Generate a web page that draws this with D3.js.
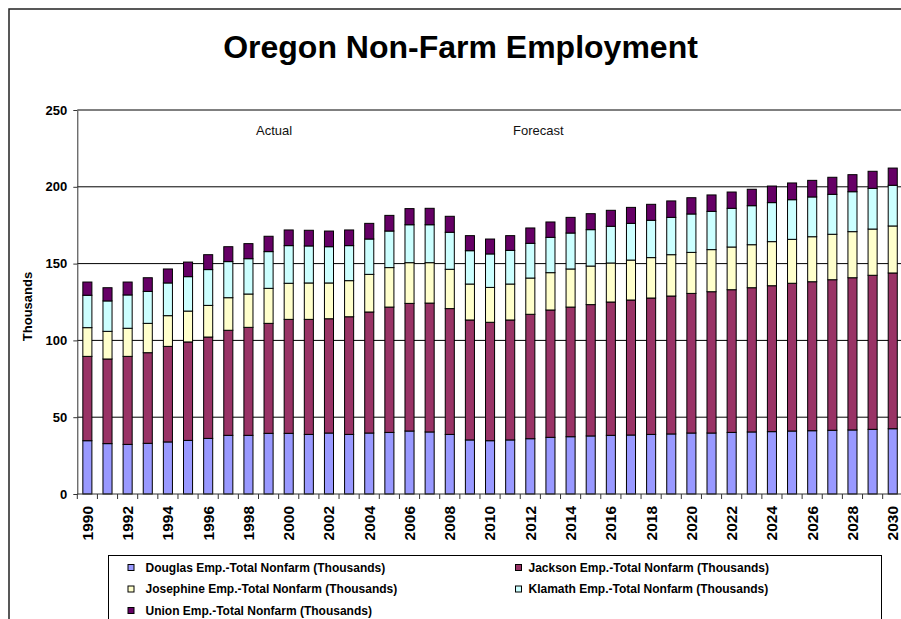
<!DOCTYPE html>
<html><head><meta charset="utf-8">
<script src="https://cdn.jsdelivr.net/npm/d3@7/dist/d3.min.js"></script>
<style>
body{margin:0;background:#fff}
svg{display:block}
text{font-family:"Liberation Sans",Arial,sans-serif}
</style>
</head><body>
<svg id="c" width="901" height="619"></svg>
<script>
const years = [1990,1991,1992,1993,1994,1995,1996,1997,1998,1999,2000,2001,2002,2003,2004,2005,2006,2007,2008,2009,2010,2011,2012,2013,2014,2015,2016,2017,2018,2019,2020,2021,2022,2023,2024,2025,2026,2027,2028,2029,2030];
const douglas   = [34.7,32.8,32.3,33.0,33.9,34.9,36.2,38.2,38.2,39.5,39.5,38.8,39.7,38.8,39.7,40.1,41.0,40.4,38.8,35.2,34.7,35.2,36.0,36.9,37.3,37.8,38.2,38.4,38.8,39.1,39.7,39.7,40.1,40.4,40.6,41.0,41.2,41.5,41.7,42.1,42.5];
const jackson   = [54.9,55.1,57.3,59.0,62.2,64.1,66.0,68.4,70.3,71.6,74.2,74.9,74.4,76.6,78.8,81.6,83.1,83.9,81.9,78.1,77.1,78.1,81.0,82.9,84.4,85.5,86.8,87.9,88.8,89.8,90.9,92.0,92.9,93.9,95.0,96.2,97.0,98.0,99.1,100.3,101.4];
const josephine = [18.7,18.0,18.3,19.1,20.0,20.1,20.6,21.2,21.7,22.8,23.5,23.7,23.3,23.5,24.5,25.7,26.5,26.3,25.6,23.4,22.7,23.4,23.6,24.3,24.8,25.1,25.4,26.0,26.3,26.9,26.7,27.4,27.8,28.0,28.7,28.6,29.3,29.6,30.0,30.1,30.6];
const klamath   = [21.1,19.8,21.7,20.8,21.3,22.4,23.3,23.5,23.0,23.9,24.5,24.1,23.6,22.8,23.0,23.8,24.7,24.7,24.1,21.7,21.8,21.9,22.6,23.0,23.4,23.7,23.9,23.9,24.3,24.3,25.0,24.9,25.2,25.4,25.4,25.8,25.9,26.0,26.0,26.5,26.5];
const union     = [8.6,8.6,8.4,8.9,9.1,9.5,9.7,9.7,9.8,10.0,10.2,10.2,10.2,10.2,10.2,10.2,10.5,10.7,10.4,9.8,9.7,9.6,10.0,10.0,10.2,10.4,10.4,10.4,10.4,10.7,10.6,10.7,10.6,10.7,10.8,10.9,10.8,11.1,11.1,11.1,11.2];

const seriesKeys   = ["douglas","jackson","josephine","klamath","union"];
const seriesNames  = ["Douglas Emp.-Total Nonfarm (Thousands)","Jackson Emp.-Total Nonfarm (Thousands)","Josephine Emp.-Total Nonfarm (Thousands)","Klamath Emp.-Total Nonfarm (Thousands)","Union Emp.-Total Nonfarm (Thousands)"];
const seriesColors = ["#9999FF","#993366","#FFFFCC","#CCFFFF","#660066"];
const yTicks = [0,50,100,150,200,250];
const xTickLabels = [1990,1992,1994,1996,1998,2000,2002,2004,2006,2008,2010,2012,2014,2016,2018,2020,2022,2024,2026,2028,2030];
const titleText = "Oregon Non-Farm Employment";
const yAxisTitle = "Thousands";
const annotations = ["Actual","Forecast"];

const rows = years.map((yr,i)=>({year:yr, douglas:douglas[i], jackson:jackson[i], josephine:josephine[i], klamath:klamath[i], union:union[i]}));

const svg = d3.select("#c");
const F = '"Liberation Sans",Arial,sans-serif';

// outer frame
svg.append("rect").attr("x",9).attr("y",9).attr("width",1000).attr("height",1000)
  .attr("fill","none").attr("stroke","#222").attr("stroke-width",1.5);

const x = d3.scaleBand().domain(years).range([77.3, 902.8]).paddingInner(0.55).paddingOuter(0.275);
const y = d3.scaleLinear().domain([0,250]).range([494,110]);
const step = x.step();
const X0 = x.range()[0], X1 = x.range()[1];

// gridlines
svg.append("g").selectAll("line").data(yTicks.filter(t=>t>0)).join("line")
  .attr("x1",X0).attr("x2",X1).attr("y1",d=>y(d)).attr("y2",d=>y(d))
  .attr("stroke","#000").attr("stroke-width",1);

// bars
const stacked = d3.stack().keys(seriesKeys)(rows);
svg.append("g").selectAll("g").data(stacked).join("g")
  .attr("fill",(d,i)=>seriesColors[i])
  .selectAll("rect").data(d=>d).join("rect")
  .attr("x",d=>x(d.data.year)).attr("width",x.bandwidth())
  .attr("y",d=>y(d[1])).attr("height",d=>y(d[0])-y(d[1]))
  .attr("stroke","#000").attr("stroke-width",1);

// y axis
const ya = svg.append("g").attr("transform",`translate(${X0},0)`)
  .call(d3.axisLeft(y).tickValues(yTicks).tickSize(4).tickSizeOuter(0).tickPadding(6));
ya.select(".domain").attr("stroke","#333");
ya.selectAll(".tick line").attr("stroke","#333");
ya.selectAll("text").attr("font-family",F).attr("font-size",13).attr("font-weight","bold").attr("fill","#000");

// x axis line + ticks
svg.append("line").attr("x1",X0).attr("x2",X1).attr("y1",y(0)).attr("y2",y(0)).attr("stroke","#333").attr("stroke-width",1);
const bounds = years.map(yr=>x(yr)-(step-x.bandwidth())/2).concat([X1]);
svg.append("g").selectAll("line").data(bounds).join("line")
  .attr("x1",d=>d).attr("x2",d=>d).attr("y1",y(0)).attr("y2",y(0)+5)
  .attr("stroke","#333");

svg.append("g").selectAll("text").data(xTickLabels).join("text")
  .attr("transform",d=>`translate(${x(d)+x.bandwidth()/2},506) rotate(-90)`)
  .attr("text-anchor","end").attr("dy","0.35em")
  .attr("font-size",15.5).attr("font-weight","bold").text(d=>d);

// y title
svg.append("text").attr("transform","translate(27,306.5) rotate(-90)")
  .attr("text-anchor","middle").attr("dy","0.35em")
  .attr("font-size",13).attr("font-weight","bold").text(yAxisTitle);

// title
svg.append("text").attr("x",460.5).attr("y",58).attr("text-anchor","middle")
  .attr("font-size",32).attr("font-weight","bold").text(titleText);

// annotations
svg.append("text").attr("x",256).attr("y",135).attr("font-size",13).attr("fill","#111").text(annotations[0]);
svg.append("text").attr("x",513).attr("y",135).attr("font-size",13).attr("fill","#111").text(annotations[1]);

// legend
svg.append("rect").attr("x",108.5).attr("y",555.5).attr("width",773).attr("height",100)
  .attr("fill","#fff").attr("stroke","#000").attr("stroke-width",1);
const legPos = [
  {mx:128, tx:145.5, cy:567.5},
  {mx:515.5, tx:528.5, cy:567.5},
  {mx:128, tx:145.5, cy:589},
  {mx:515.5, tx:528.5, cy:589},
  {mx:128, tx:145.5, cy:610.5}
];
const lg = svg.append("g").selectAll("g").data(seriesNames).join("g");
lg.append("rect").attr("x",(d,i)=>legPos[i].mx).attr("y",(d,i)=>legPos[i].cy-3)
  .attr("width",6).attr("height",6).attr("fill",(d,i)=>seriesColors[i]).attr("stroke","#000");
lg.append("text").attr("x",(d,i)=>legPos[i].tx).attr("y",(d,i)=>legPos[i].cy).attr("dy","0.35em")
  .attr("font-size",12).attr("font-weight","bold").text(d=>d);
</script>
</body></html>
